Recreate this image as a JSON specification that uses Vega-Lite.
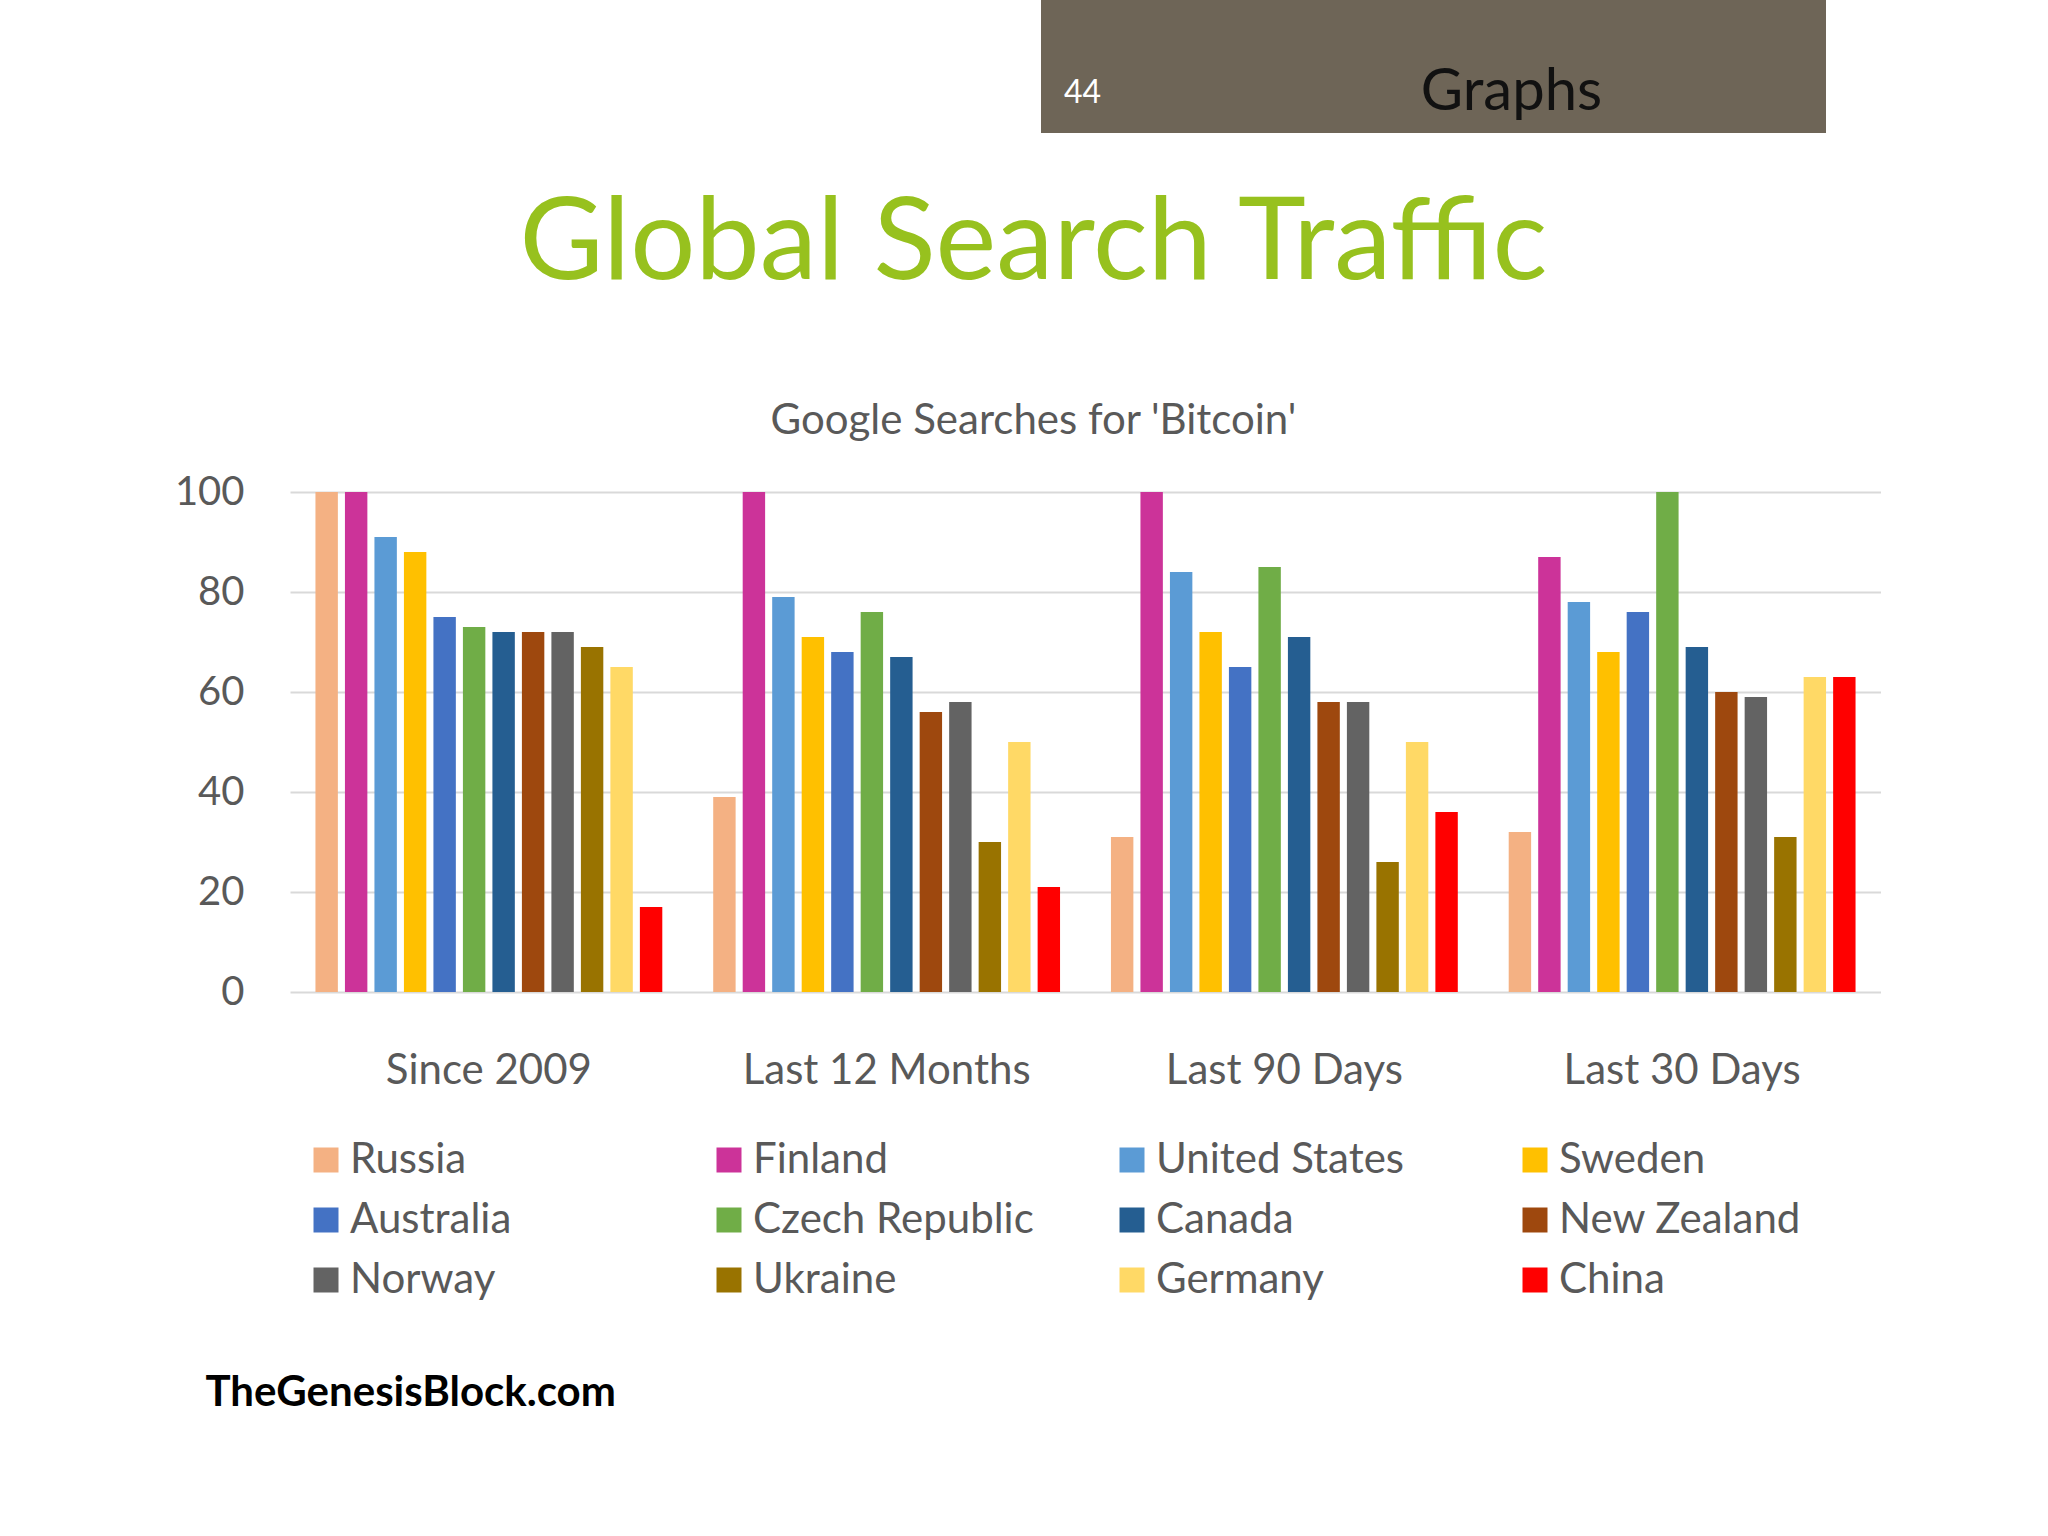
{
  "$schema": "https://vega.github.io/schema/vega-lite/v6.json",
  "background": "white",
  "padding": {"left": 174, "top": 0, "right": 0, "bottom": 0},
  "bounds": "flush",
  "spacing": 492,
  "config": {"view": {"stroke": null}, "font": "Lato"},
  "datasets": {
    "searches": [
      {"period": "Since 2009", "country": "Russia", "value": 100},
      {"period": "Since 2009", "country": "Finland", "value": 100},
      {"period": "Since 2009", "country": "United States", "value": 91},
      {"period": "Since 2009", "country": "Sweden", "value": 88},
      {"period": "Since 2009", "country": "Australia", "value": 75},
      {"period": "Since 2009", "country": "Czech Republic", "value": 73},
      {"period": "Since 2009", "country": "Canada", "value": 72},
      {"period": "Since 2009", "country": "New Zealand", "value": 72},
      {"period": "Since 2009", "country": "Norway", "value": 72},
      {"period": "Since 2009", "country": "Ukraine", "value": 69},
      {"period": "Since 2009", "country": "Germany", "value": 65},
      {"period": "Since 2009", "country": "China", "value": 17},
      {"period": "Last 12 Months", "country": "Russia", "value": 39},
      {"period": "Last 12 Months", "country": "Finland", "value": 100},
      {"period": "Last 12 Months", "country": "United States", "value": 79},
      {"period": "Last 12 Months", "country": "Sweden", "value": 71},
      {"period": "Last 12 Months", "country": "Australia", "value": 68},
      {"period": "Last 12 Months", "country": "Czech Republic", "value": 76},
      {"period": "Last 12 Months", "country": "Canada", "value": 67},
      {"period": "Last 12 Months", "country": "New Zealand", "value": 56},
      {"period": "Last 12 Months", "country": "Norway", "value": 58},
      {"period": "Last 12 Months", "country": "Ukraine", "value": 30},
      {"period": "Last 12 Months", "country": "Germany", "value": 50},
      {"period": "Last 12 Months", "country": "China", "value": 21},
      {"period": "Last 90 Days", "country": "Russia", "value": 31},
      {"period": "Last 90 Days", "country": "Finland", "value": 100},
      {"period": "Last 90 Days", "country": "United States", "value": 84},
      {"period": "Last 90 Days", "country": "Sweden", "value": 72},
      {"period": "Last 90 Days", "country": "Australia", "value": 65},
      {"period": "Last 90 Days", "country": "Czech Republic", "value": 85},
      {"period": "Last 90 Days", "country": "Canada", "value": 71},
      {"period": "Last 90 Days", "country": "New Zealand", "value": 58},
      {"period": "Last 90 Days", "country": "Norway", "value": 58},
      {"period": "Last 90 Days", "country": "Ukraine", "value": 26},
      {"period": "Last 90 Days", "country": "Germany", "value": 50},
      {"period": "Last 90 Days", "country": "China", "value": 36},
      {"period": "Last 30 Days", "country": "Russia", "value": 32},
      {"period": "Last 30 Days", "country": "Finland", "value": 87},
      {"period": "Last 30 Days", "country": "United States", "value": 78},
      {"period": "Last 30 Days", "country": "Sweden", "value": 68},
      {"period": "Last 30 Days", "country": "Australia", "value": 76},
      {"period": "Last 30 Days", "country": "Czech Republic", "value": 100},
      {"period": "Last 30 Days", "country": "Canada", "value": 69},
      {"period": "Last 30 Days", "country": "New Zealand", "value": 60},
      {"period": "Last 30 Days", "country": "Norway", "value": 59},
      {"period": "Last 30 Days", "country": "Ukraine", "value": 31},
      {"period": "Last 30 Days", "country": "Germany", "value": 63},
      {"period": "Last 30 Days", "country": "China", "value": 63}
    ],
    "header": [{"label": "Graphs"}]
  },
  "vconcat": [
    {
      "bounds": "flush",
      "spacing": 0,
      "hconcat": [
        {
          "width": 751,
          "height": 133,
          "data": {"values": []},
          "mark": {"type": "text"},
          "view": {"stroke": null}
        },
        {
          "width": 785,
          "height": 133,
          "data": {"name": "header"},
          "view": {"fill": "#6E6557", "stroke": null},
          "title": {
            "text": "44",
            "orient": "bottom",
            "anchor": "start",
            "baseline": "alphabetic",
            "offset": -30,
            "dx": 23,
            "font": "Lato",
            "fontSize": 32,
            "fontWeight": "normal",
            "color": "#FFFFFF"
          },
          "mark": {"type": "text", "font": "Lato", "fontSize": 58, "color": "#111111", "baseline": "alphabetic", "dx": 78, "dy": 43},
          "encoding": {"text": {"field": "label", "type": "nominal"}}
        }
      ]
    },
    {
      "width": 1591,
      "height": 500,
      "data": {"name": "searches"},
      "title": {
        "text": "Global Search Traffic",
        "subtitle": "Google Searches for 'Bitcoin'",
        "anchor": "middle",
        "dx": -52,
        "offset": 29,
        "font": "Lato",
        "fontSize": 115,
        "fontWeight": "normal",
        "color": "#97C11E",
        "subtitleFont": "Lato",
        "subtitleFontSize": 42,
        "subtitleColor": "#595959",
        "subtitlePadding": 98
      },
      "mark": {"type": "bar"},
      "encoding": {
        "x": {
          "field": "period",
          "type": "nominal",
          "sort": ["Since 2009", "Last 12 Months", "Last 90 Days", "Last 30 Days"],
          "scale": {"paddingInner": 0.128, "paddingOuter": 0.064},
          "axis": {
            "title": "TheGenesisBlock.com",
            "titleFont": "Lato",
            "titleFontSize": 42,
            "titleFontWeight": "bold",
            "titleColor": "#000000",
            "titleAnchor": "start",
            "titleAlign": "left",
            "titleBaseline": "alphabetic",
            "titleX": -85,
            "titleY": 413,
            "labelAngle": 0,
            "labelFont": "Lato",
            "labelFontSize": 42,
            "labelColor": "#595959",
            "labelPadding": 58,
            "labelLimit": 500,
            "domain": false,
            "ticks": false
          }
        },
        "xOffset": {
          "field": "country",
          "type": "nominal",
          "sort": ["Russia", "Finland", "United States", "Sweden", "Australia", "Czech Republic", "Canada", "New Zealand", "Norway", "Ukraine", "Germany", "China"],
          "scale": {"paddingInner": 0.24, "paddingOuter": 0}
        },
        "y": {
          "field": "value",
          "type": "quantitative",
          "scale": {"domain": [0, 100], "nice": false},
          "axis": {
            "title": null,
            "values": [0, 20, 40, 60, 80, 100],
            "labelFont": "Lato",
            "labelFontSize": 40,
            "labelColor": "#595959",
            "labelPadding": 46,
            "domain": false,
            "ticks": false,
            "gridColor": "#D9D9D9",
            "gridWidth": 2
          }
        },
        "color": {
          "field": "country",
          "type": "nominal",
          "scale": {
            "domain": ["Russia", "Finland", "United States", "Sweden", "Australia", "Czech Republic", "Canada", "New Zealand", "Norway", "Ukraine", "Germany", "China"],
            "range": ["#F4B183", "#CC3399", "#5B9BD5", "#FFC000", "#4472C4", "#70AD47", "#255E91", "#9E480E", "#636363", "#997300", "#FFD966", "#FF0000"]
          },
          "legend": {
            "title": null,
            "orient": "none",
            "legendX": 15,
            "legendY": 1139,
            "columns": 4,
            "direction": "horizontal",
            "gridAlign": "all",
            "columnPadding": 77,
            "rowPadding": 18,
            "padding": 0,
            "symbolType": "square",
            "symbolSize": 625,
            "symbolStrokeWidth": 0,
            "labelOffset": 3,
            "labelFont": "Lato",
            "labelFontSize": 42,
            "labelColor": "#595959",
            "labelLimit": 500
          }
        }
      }
    }
  ]
}
